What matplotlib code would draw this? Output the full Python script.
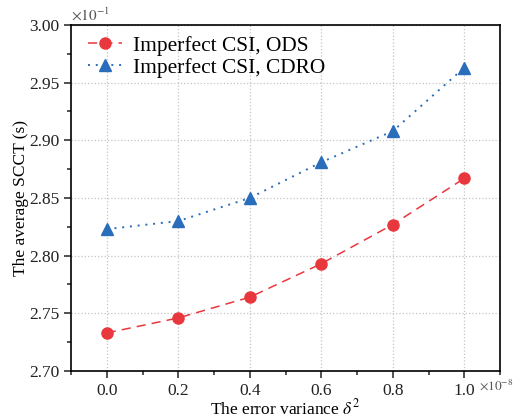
import matplotlib.pyplot as plt
from matplotlib.ticker import MultipleLocator

plt.rcParams['font.family'] = ['Liberation Serif', 'DejaVu Serif']
plt.rcParams['mathtext.fontset'] = 'stix'

# error variance (x 1e-8)
variance = [0.0, 0.2, 0.4, 0.6, 0.8, 1.0]
# average SCCT (x 1e-1 s)
scct_ods = [2.733, 2.746, 2.764, 2.793, 2.827, 2.867]
scct_cdro = [2.823, 2.830, 2.850, 2.881, 2.908, 2.963]

fig = plt.figure(figsize=(5.15, 4.2), dpi=100)
ax = fig.add_axes([71/515, 49/420, 429/515, 346/420])

ax.plot(variance, scct_ods, color='#e8383d', linestyle=(0, (6, 4)), lw=1.1,
        marker='o', markersize=8, label='Imperfect CSI, ODS')
ax.plot(variance, scct_cdro, color='#2a6ebb', linestyle=(0, (1, 3)), lw=1.4,
        marker='^', markersize=8, label='Imperfect CSI, CDRO')

ax.set_xlim(-0.1, 1.1)
ax.set_ylim(2.70, 3.00)
ax.xaxis.set_major_locator(MultipleLocator(0.2))
ax.xaxis.set_minor_locator(MultipleLocator(0.1))
ax.yaxis.set_major_locator(MultipleLocator(0.05))
ax.yaxis.set_minor_locator(MultipleLocator(0.025))
ax.xaxis.set_major_formatter(plt.FormatStrFormatter('%.1f'))
ax.yaxis.set_major_formatter(plt.FormatStrFormatter('%.2f'))
ax.tick_params(which='both', direction='out', labelsize=12.5, width=1.1,
               colors='#222222')
ax.tick_params(which='major', length=5)
ax.tick_params(which='minor', length=3)
for s in ax.spines.values():
    s.set_linewidth(1.2)

ax.grid(True, which='major', linestyle=':', color='#c4c4c4', lw=0.9)

ax.set_xlabel(r'The error variance $\delta^2$', fontsize=12.5, labelpad=0)
ax.set_ylabel('The average SCCT (s)', fontsize=12.5, labelpad=0)

ax.text(0.0, 1.005, r'$\times10^{-1}$', transform=ax.transAxes, fontsize=11,
        color='#555555', va='bottom', ha='left')
ax.text(0.951, -0.04, r'$\times10^{-8}$', transform=ax.transAxes, fontsize=9.5,
        color='#555555', va='center', ha='left')

ax.legend(loc='upper left', bbox_to_anchor=(0.015, 1.0), frameon=False,
          fontsize=15.4, handlelength=1.6, handletextpad=0.5,
          borderaxespad=0.1, labelspacing=0.1)

plt.savefig('out.png', dpi=100)
